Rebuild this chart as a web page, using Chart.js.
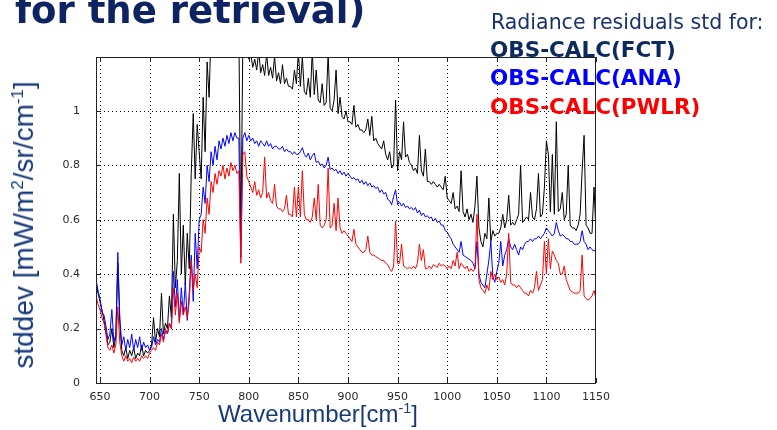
<!DOCTYPE html>
<html>
<head>
<meta charset="utf-8">
<script src="https://cdn.jsdelivr.net/npm/chart.js@4.4.1/dist/chart.umd.min.js"></script>
<style>
  html, body { margin: 0; padding: 0; background: #fff; }
  #wrap { position: relative; width: 777px; height: 430px; overflow: hidden; }
  #spectrum { position: absolute; left: 0; top: 0; }
  .txt { position: absolute; white-space: nowrap; line-height: 1; }
  .txt sup { font-size: 0.6em; vertical-align: baseline; position: relative; top: -0.62em; }
  .heading { left: 15px; top: -11px; font: bold 37px "DejaVu Sans"; color: #0e2462; }
  .legend-head { left: 491px; top: 10px; font: 20.5px "DejaVu Sans"; color: #1a3170; }
  .legend-item { left: 490px; font: bold 21.5px "DejaVu Sans"; }
  .ytitle { left: 24px; top: 225px; font: 28px "Liberation Sans"; color: #173a7a;
            transform: translate(-50%, -50%) rotate(-90deg); }
  .xtitle { left: 318px; top: 400px; font: 24px "Liberation Sans"; color: #173a7a;
            transform: translateX(-50%); }
</style>
</head>
<body>
<div id="wrap">
  <canvas id="spectrum" width="777" height="430"></canvas>
  <div class="txt heading">for the retrieval)</div>
  <div class="txt legend-head">Radiance residuals std for:</div>
  <div class="txt legend-item" style="top:37px; color:#0d2a5e">OBS-CALC(FCT)</div>
  <div class="txt legend-item" style="top:65px; color:#0000ff">OBS-CALC(ANA)</div>
  <div class="txt legend-item" style="top:94px; color:#ff0000">OBS-CALC(PWLR)</div>
  <div class="txt ytitle">stddev [mW/m<sup>2</sup>/sr/cm<sup>-1</sup>]</div>
  <div class="txt xtitle">Wavenumber[cm<sup>-1</sup>]</div>
</div>
<script>
// wavenumber grid [cm-1]
const wavenumber = [
  646,648,650,652,654,656,658,660,662,664,666,668,670,672,674,676,678,680,682,684,686,688,690,692,694,696,698,700,
  702,704,706,708,710,712,714,716,718,720,722,724,726,728,730,732,734,736,738,740,742,744,746,748,750,
  752,754,756,758,760,762,764,766,768,770,772,774,776,778,780,782,784,786,788,790,792,794,796,798,800,
  802,804,806,808,810,812,814,816,818,820,822,824,826,828,830,832,834,836,838,840,842,844,846,848,850,
  852,854,856,858,860,862,864,866,868,870,872,874,876,878,880,882,884,886,888,890,892,894,896,898,900,
  902,904,906,908,910,912,914,916,918,920,922,924,926,928,930,932,934,936,938,940,942,944,946,948,950,
  952,954,956,958,960,962,964,966,968,970,972,974,976,978,980,982,984,986,988,990,992,994,996,998,1000,
  1002,1004,1006,1008,1010,1012,1014,1016,1018,1020,1022,1024,1026,1028,1030,1032,1034,1036,1038,1040,1042,1044,1046,1048,1050,
  1052,1054,1056,1058,1060,1062,1064,1066,1068,1070,1072,1074,1076,1078,1080,1082,1084,1086,1088,1090,1092,1094,1096,1098,1100,
  1102,1104,1106,1108,1110,1112,1114,1116,1118,1120,1122,1124,1126,1128,1130,1132,1134,1136,1138,1140,1142,1144,1146,1148,1150
];

// OBS-CALC(FCT) std
const fct = [
  0.37,0.33,0.30,0.27,0.23,0.19,0.14,0.15,0.20,0.13,0.17,0.44,0.22,0.12,0.10,0.13,0.09,0.12,0.10,0.13,0.09,0.11,0.10,0.14,0.10,0.12,0.11,0.12,
  0.14,0.24,0.15,0.20,0.17,0.33,0.18,0.22,0.20,0.32,0.24,0.62,0.35,0.45,0.77,0.40,0.58,0.36,0.55,0.42,0.77,0.99,0.75,0.95,0.85,
  0.75,1.05,0.85,1.18,1.05,1.30,1.25,1.40,1.30,1.35,1.40,1.30,1.45,1.40,1.35,1.45,1.40,1.35,1.40,1.30,0.52,1.25,1.30,1.22,1.19,
  1.21,1.16,1.19,1.15,1.22,1.14,1.17,1.13,1.21,1.13,1.16,1.12,1.20,1.11,1.14,1.10,1.17,1.10,1.12,1.09,1.09,1.08,1.15,1.10,1.22,
  1.09,1.20,1.07,1.06,1.12,1.05,1.22,1.06,1.15,1.04,1.03,1.10,1.02,1.03,1.21,1.01,1.00,1.04,1.15,0.99,1.05,0.98,0.97,1.00,0.96,
  0.96,0.95,1.02,0.94,0.95,0.93,0.93,0.92,0.93,0.97,0.91,0.98,0.89,0.90,0.88,0.87,0.86,0.89,0.84,0.82,0.85,0.79,0.80,1.04,0.78,
  0.85,0.82,0.96,0.83,0.84,0.81,0.80,0.78,0.79,0.77,0.91,0.78,0.76,0.86,0.74,0.74,0.73,0.74,0.73,0.72,0.73,0.72,0.71,0.76,0.68,
  0.67,0.66,0.70,0.64,0.65,0.63,0.78,0.63,0.61,0.64,0.60,0.62,0.59,0.65,0.76,0.57,0.52,0.50,0.55,0.53,0.68,0.52,0.56,0.54,0.55,
  0.55,0.57,0.62,0.57,0.60,0.69,0.58,0.59,0.58,0.60,0.62,0.80,0.59,0.60,0.61,0.60,0.70,0.61,0.60,0.64,0.77,0.61,0.62,0.72,0.89,
  0.84,0.63,0.84,0.62,0.96,0.63,0.64,0.70,0.60,0.62,0.80,0.58,0.57,0.57,0.56,0.58,0.62,0.78,0.91,0.58,0.57,0.55,0.55,0.72,0.55
];

// OBS-CALC(ANA) std
const ana = [
  0.38,0.34,0.31,0.26,0.25,0.21,0.16,0.18,0.27,0.15,0.18,0.48,0.24,0.14,0.17,0.12,0.16,0.13,0.18,0.12,0.16,0.13,0.17,0.12,0.15,0.13,0.14,0.12,
  0.13,0.17,0.14,0.16,0.15,0.20,0.16,0.19,0.18,0.22,0.20,0.41,0.28,0.38,0.23,0.35,0.25,0.37,0.23,0.33,0.47,0.30,0.55,0.42,0.60,
  0.62,0.72,0.66,0.80,0.74,0.85,0.80,0.87,0.82,0.89,0.86,0.90,0.87,0.91,0.88,0.92,0.89,0.92,0.90,0.90,0.46,0.90,0.92,0.89,0.91,
  0.89,0.90,0.88,0.89,0.87,0.89,0.88,0.87,0.89,0.87,0.88,0.86,0.87,0.87,0.86,0.86,0.87,0.85,0.86,0.85,0.85,0.84,0.85,0.84,0.84,
  0.85,0.865,0.84,0.83,0.845,0.82,0.835,0.845,0.81,0.815,0.80,0.805,0.79,0.80,0.83,0.785,0.79,0.78,0.785,0.77,0.78,0.765,0.775,0.76,0.77,
  0.76,0.75,0.755,0.745,0.75,0.735,0.745,0.73,0.74,0.725,0.735,0.72,0.725,0.715,0.72,0.70,0.71,0.695,0.70,0.675,0.67,0.655,0.685,0.71,0.655,
  0.665,0.65,0.66,0.645,0.65,0.64,0.645,0.635,0.645,0.625,0.635,0.615,0.625,0.61,0.615,0.605,0.61,0.595,0.605,0.59,0.595,0.58,0.58,0.56,0.555,
  0.54,0.53,0.51,0.50,0.49,0.48,0.52,0.47,0.465,0.46,0.455,0.45,0.44,0.42,0.52,0.40,0.37,0.36,0.35,0.40,0.45,0.52,0.39,0.37,0.41,
  0.44,0.52,0.43,0.47,0.49,0.53,0.50,0.49,0.51,0.49,0.47,0.50,0.49,0.51,0.52,0.52,0.53,0.52,0.53,0.53,0.54,0.53,0.54,0.55,0.57,
  0.56,0.55,0.54,0.55,0.59,0.56,0.54,0.545,0.54,0.53,0.53,0.52,0.52,0.51,0.51,0.51,0.52,0.56,0.52,0.51,0.49,0.50,0.49,0.485,0.49
];

// OBS-CALC(PWLR) std
const pwlr = [
  0.32,0.29,0.27,0.24,0.22,0.18,0.13,0.12,0.14,0.11,0.14,0.28,0.15,0.10,0.08,0.10,0.08,0.09,0.075,0.095,0.08,0.09,0.08,0.10,0.09,0.10,0.09,0.11,
  0.12,0.13,0.12,0.15,0.14,0.18,0.15,0.20,0.18,0.22,0.20,0.35,0.25,0.33,0.22,0.30,0.25,0.28,0.24,0.30,0.45,0.34,0.40,0.35,0.50,
  0.48,0.60,0.55,0.68,0.62,0.74,0.70,0.77,0.73,0.78,0.76,0.80,0.75,0.79,0.76,0.81,0.78,0.80,0.77,0.78,0.44,0.84,0.85,0.76,0.74,
  0.72,0.70,0.74,0.69,0.71,0.68,0.70,0.83,0.68,0.70,0.67,0.66,0.73,0.65,0.64,0.64,0.63,0.64,0.69,0.62,0.62,0.61,0.72,0.61,0.72,
  0.61,0.78,0.62,0.60,0.60,0.59,0.61,0.68,0.60,0.73,0.58,0.57,0.58,0.60,0.79,0.57,0.58,0.66,0.56,0.68,0.57,0.55,0.56,0.55,0.54,
  0.53,0.52,0.565,0.51,0.50,0.49,0.48,0.48,0.49,0.54,0.48,0.47,0.47,0.465,0.46,0.455,0.45,0.45,0.44,0.435,0.42,0.41,0.43,0.595,0.44,
  0.44,0.51,0.43,0.425,0.42,0.425,0.42,0.43,0.42,0.44,0.51,0.45,0.49,0.42,0.42,0.43,0.42,0.435,0.43,0.425,0.44,0.43,0.435,0.43,0.42,
  0.43,0.42,0.45,0.43,0.48,0.42,0.44,0.43,0.42,0.43,0.41,0.42,0.41,0.42,0.62,0.38,0.35,0.34,0.33,0.36,0.34,0.41,0.38,0.40,0.38,
  0.39,0.37,0.38,0.36,0.40,0.55,0.37,0.36,0.36,0.35,0.36,0.35,0.34,0.33,0.33,0.32,0.34,0.33,0.35,0.41,0.34,0.36,0.38,0.52,0.40,
  0.53,0.42,0.485,0.47,0.45,0.44,0.40,0.40,0.43,0.38,0.36,0.34,0.335,0.33,0.33,0.33,0.34,0.47,0.32,0.31,0.305,0.31,0.32,0.34,0.31
];

const xTicks = [650, 700, 750, 800, 850, 900, 950, 1000, 1050, 1100, 1150];
const yTicks = [0, 0.2, 0.4, 0.6, 0.8, 1];

const pairs = (vals) => wavenumber.map((w, i) => ({ x: w, y: vals[i] }));

// dotted grid under the curves, box with inward ticks on top (matlab style axes)
const frame = {
  id: 'frame',
  beforeDatasetsDraw(chart) {
    const { ctx, chartArea: a, scales: { x, y } } = chart;
    ctx.save();
    ctx.strokeStyle = '#000';
    ctx.lineWidth = 1;
    ctx.setLineDash([1, 3]);
    ctx.beginPath();
    x.ticks.forEach(t => {
      const px = Math.round(x.getPixelForValue(t.value)) + 0.5;
      if (px <= a.left + 1 || px >= a.right - 1) return;
      ctx.moveTo(px, a.top);
      ctx.lineTo(px, a.bottom);
    });
    y.ticks.forEach(t => {
      const py = Math.round(y.getPixelForValue(t.value)) + 0.5;
      if (py <= a.top + 1 || py >= a.bottom - 1) return;
      ctx.moveTo(a.left, py);
      ctx.lineTo(a.right, py);
    });
    ctx.stroke();
    ctx.restore();
  },
  afterDatasetsDraw(chart) {
    const { ctx, chartArea: a, scales: { x, y } } = chart;
    const len = 5;
    ctx.save();
    ctx.strokeStyle = '#222';
    ctx.lineWidth = 1;
    ctx.beginPath();
    x.ticks.forEach(t => {
      const px = Math.round(x.getPixelForValue(t.value)) + 0.5;
      ctx.moveTo(px, a.bottom);
      ctx.lineTo(px, a.bottom - len);
      ctx.moveTo(px, a.top);
      ctx.lineTo(px, a.top + len);
    });
    y.ticks.forEach(t => {
      const py = Math.round(y.getPixelForValue(t.value)) + 0.5;
      ctx.moveTo(a.left, py);
      ctx.lineTo(a.left + len, py);
      ctx.moveTo(a.right, py);
      ctx.lineTo(a.right - len, py);
    });
    ctx.stroke();
    ctx.strokeRect(a.left + 0.5, a.top + 0.5, a.right - a.left - 1, a.bottom - a.top);
    ctx.restore();
  }
};

const tickFont = { family: 'DejaVu Sans', size: 11 };

new Chart(document.getElementById('spectrum'), {
  type: 'line',
  data: {
    datasets: [
      { label: 'OBS-CALC(FCT)', data: pairs(fct), borderColor: '#000000', order: 3 },
      { label: 'OBS-CALC(ANA)', data: pairs(ana), borderColor: '#0000ff', order: 2 },
      { label: 'OBS-CALC(PWLR)', data: pairs(pwlr), borderColor: '#ff0000', order: 1 }
    ]
  },
  options: {
    responsive: false,
    animation: false,
    devicePixelRatio: 1,
    layout: { padding: { left: 0, top: 57, right: 181, bottom: 0 } },
    elements: {
      point: { radius: 0 },
      line: { borderWidth: 1, tension: 0, borderJoinStyle: 'bevel' }
    },
    plugins: { legend: { display: false }, tooltip: { enabled: false } },
    scales: {
      x: {
        type: 'linear',
        min: 646,
        max: 1150,
        grid: { display: false },
        border: { display: false },
        afterBuildTicks: s => { s.ticks = xTicks.map(v => ({ value: v })); },
        afterFit: s => { s.height = 47; },
        ticks: { autoSkip: false, maxRotation: 0, padding: 0, color: '#2a2a2a', font: tickFont,
                 callback: v => String(v) }
      },
      y: {
        min: 0,
        max: 1.198,
        grid: { display: false },
        border: { display: false },
        afterBuildTicks: s => { s.ticks = yTicks.map(v => ({ value: v })); },
        afterFit: s => { s.width = 96; },
        ticks: { padding: 8, color: '#2a2a2a', font: tickFont, callback: v => String(v) }
      }
    }
  },
  plugins: [frame]
});
</script>
</body>
</html>
